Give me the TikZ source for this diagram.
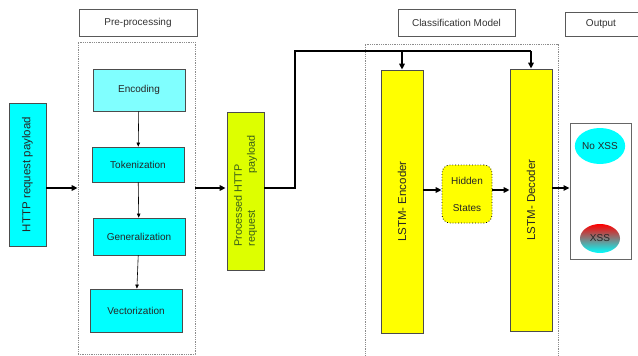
\documentclass[tikz,border=0pt]{standalone}
\usepackage{fontspec}
\setmainfont{Liberation Sans}
\usetikzlibrary{shapes.geometric,arrows.meta}
\definecolor{aqua}{HTML}{00FFFF}
\definecolor{lcyan}{HTML}{80FFFF}
\definecolor{lime}{HTML}{DDFF00}
\definecolor{yel}{HTML}{FFFF00}
\definecolor{pinkmid}{HTML}{FF66DD}
\definecolor{olivetext}{HTML}{3A5F1A}
\begin{document}
\begin{tikzpicture}
[   x=1pt,y=-1pt,
    box/.style={draw=black!70,fill=#1,line width=0.8pt,inner sep=0pt,text=black!85,
                font=\fontsize{10}{12}\selectfont},
    tagbox/.style={draw=black!65,fill=white,line width=0.8pt,inner sep=0pt,text=black!80,
                font=\fontsize{10}{12}\selectfont},
    dotbox/.style={draw=black!45,densely dotted,line width=0.8pt},
    flow/.style={draw=black,line width=1.4pt,-{Triangle[length=6pt,width=5.5pt]}},
    thin/.style={draw=black,line width=0.6pt,-{Triangle[length=4pt,width=3.5pt]}},
]
    \useasboundingbox (0,0) rectangle (638,356);
    \clip (0,0) rectangle (638,356);
    %
    % headings
    \node[tagbox,minimum width=118pt,minimum height=27pt] (tpre) at (138,22.5) {Pre-processing};
    \node[tagbox,minimum width=117pt,minimum height=27pt] (tcls) at (456.5,22.5) {Classification Model};
    \draw[draw=black!65,line width=0.8pt,fill=white] (565,12) rectangle (650,36);
    \node[text=black!80,font=\fontsize{10}{12}\selectfont] (tout) at (601,24) {Output};

    % dotted frames
    \node[dotbox,minimum width=117pt,minimum height=312pt] (pre) at (136.5,198) {};
    \draw[dotbox] (365,370) -- (365,44) -- (558,44) -- (558,370);

    % input
    \node[box=aqua,minimum width=37pt,minimum height=143pt] (http) at (27.5,174.5)
        {\rotatebox{90}{\fontsize{11.5}{13}\selectfont HTTP request payload}};

    % pre-processing steps
    \node[box=lcyan,minimum width=92pt,minimum height=42pt] (enc) at (139,90) {Encoding};
    \node[box=aqua,minimum width=92pt,minimum height=35pt] (tok) at (138,164.5) {Tokenization};
    \node[box=aqua,minimum width=92pt,minimum height=37pt] (gen) at (139,236.5) {Generalization};
    \node[box=aqua,minimum width=92pt,minimum height=43pt] (vec) at (136,310.5) {Vectorization};
    \draw[thin] (enc) -- (tok);
    \draw[thin] (tok) -- (gen);
    \draw[thin] (gen) -- (vec);

    % processed request
    \node[box=lime,minimum width=37pt,minimum height=158pt] (proc) at (245.5,191)
        {\rotatebox{90}{\color{olivetext}\fontsize{10.8}{13}\selectfont
         \parbox{111pt}{Processed HTTP\\request\hfill payload}}};

    % classification model
    \node[box=yel,minimum width=42pt,minimum height=263pt] (lenc) at (402,201.5)
        {\rotatebox{90}{\fontsize{11.5}{13}\selectfont LSTM- Encoder}};
    \node[box=yel,minimum width=42pt,minimum height=262pt] (ldec) at (531,200)
        {\rotatebox{90}{\fontsize{11.5}{13}\selectfont LSTM- Decoder}};
    \node[box=yel,dotted,draw=black,rounded corners=8pt,minimum width=50pt,minimum height=58pt,
          align=center] (hid) at (467,194) {Hidden\\[15pt]States};

    % output
    \node[draw=black!60,line width=1pt,minimum width=61pt,minimum height=136pt] (out) at (600.5,191) {};
    \node[ellipse,fill=aqua,minimum width=38pt,minimum height=36pt,inner sep=0pt,
          text=black!85,font=\fontsize{10}{12}\selectfont] (noxss) at (600,146) {No XSS};
    \node[ellipse,top color=red,middle color=pinkmid,bottom color=aqua,minimum width=40pt,
          minimum height=29pt,inner sep=0pt,text=black!85,font=\fontsize{10}{12}\selectfont]
          (xss) at (600,238.5) {\raisebox{-3pt}{XSS}};

    % connectors
    \coordinate (ya) at (0,188);
    \coordinate (yb) at (0,190);
    \coordinate (bus) at (295,51);
    \draw[flow] (ya -| http.east) -- (ya -| pre.west);
    \draw[flow] (ya -| pre.east) -- ([xshift=-1pt]ya -| proc.west);
    \draw[draw=black,line width=1.4pt] (ya -| proc.east) -| (bus) -- (bus -| ldec.north);
    \draw[flow] (bus -| lenc.north) -- (lenc.north);
    \draw[flow] (bus -| ldec.north) -- (ldec.north);
    \draw[flow] (yb -| lenc.east) -- (yb -| hid.west);
    \draw[flow] (yb -| hid.east) -- (yb -| ldec.west);
    \draw[flow] (ya -| ldec.east) -- (ya -| out.west);
\end{tikzpicture}
\end{document}
